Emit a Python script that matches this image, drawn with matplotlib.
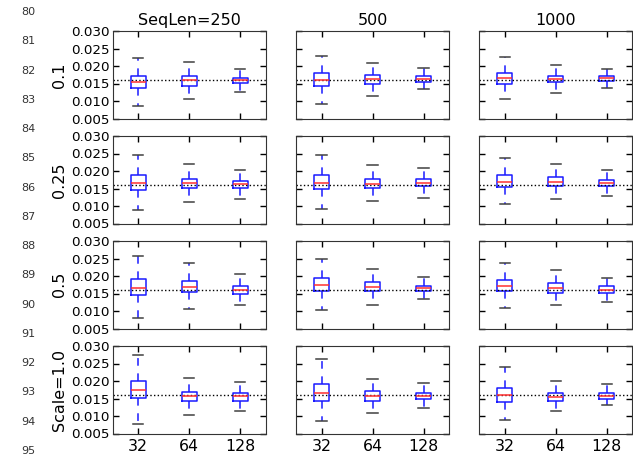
import numpy as np
import matplotlib
matplotlib.use("Agg")
import matplotlib.pyplot as plt

# etiquetas
seq_len = ["SeqLen=250", "500", "1000"]
escalas = ["0.1", "0.25", "0.5", "Scale=1.0"]
batch = ["32", "64", "128"]
referencia = 0.016
numeros_fondo = list(range(80, 96))

# estadisticas: [fila][columna][caja]
bigote_alto = [
    [[0.0224, 0.0211, 0.0191], [0.0228, 0.0209, 0.0194], [0.0225, 0.0203, 0.0191]],
    [[0.0247, 0.0219, 0.0202], [0.0245, 0.0216, 0.0209], [0.0238, 0.0220, 0.0203]],
    [[0.0256, 0.0236, 0.0205], [0.0248, 0.0221, 0.0196], [0.0236, 0.0217, 0.0195]],
    [[0.0273, 0.0209, 0.0196], [0.0263, 0.0207, 0.0193], [0.0239, 0.0199, 0.0191]],
]
q3 = [
    [[0.0171, 0.0171, 0.0166], [0.0179, 0.0174, 0.0171], [0.0181, 0.0172, 0.0171]],
    [[0.0188, 0.0178, 0.0172], [0.0188, 0.0178, 0.0177], [0.0188, 0.0183, 0.0175]],
    [[0.0192, 0.0185, 0.0172], [0.0194, 0.0183, 0.0172], [0.0190, 0.0179, 0.0171]],
    [[0.0200, 0.0170, 0.0166], [0.0192, 0.0171, 0.0167], [0.0181, 0.0166, 0.0167]],
]
mediana = [
    [[0.0153, 0.0159, 0.0159], [0.0159, 0.0163, 0.0164], [0.0165, 0.0164, 0.0165]],
    [[0.0166, 0.0165, 0.0163], [0.0167, 0.0164, 0.0166], [0.0170, 0.0169, 0.0166]],
    [[0.0167, 0.0169, 0.0161], [0.0174, 0.0169, 0.0166], [0.0172, 0.0165, 0.0161]],
    [[0.0175, 0.0158, 0.0156], [0.0165, 0.0158, 0.0158], [0.0161, 0.0155, 0.0158]],
]
q1 = [
    [[0.0138, 0.0144, 0.0151], [0.0142, 0.0150, 0.0155], [0.0149, 0.0153, 0.0158]],
    [[0.0146, 0.0151, 0.0151], [0.0148, 0.0152, 0.0156], [0.0154, 0.0158, 0.0158]],
    [[0.0146, 0.0153, 0.0150], [0.0157, 0.0157, 0.0157], [0.0157, 0.0152, 0.0152]],
    [[0.0151, 0.0143, 0.0144], [0.0142, 0.0144, 0.0148], [0.0140, 0.0143, 0.0149]],
]
bigote_bajo = [
    [[0.0086, 0.0105, 0.0126], [0.0092, 0.0115, 0.0133], [0.0105, 0.0123, 0.0136]],
    [[0.0088, 0.0111, 0.0119], [0.0091, 0.0114, 0.0123], [0.0107, 0.0120, 0.0129]],
    [[0.0081, 0.0106, 0.0117], [0.0104, 0.0118, 0.0134], [0.0109, 0.0117, 0.0127]],
    [[0.0077, 0.0104, 0.0115], [0.0086, 0.0109, 0.0123], [0.0088, 0.0113, 0.0131]],
]

W, H = 633, 455
fig = plt.figure(figsize=(W / 100, H / 100), dpi=100)

# numeros de linea al costado
ax_bg = fig.add_axes([37 / W, 1 - 450 / H, 0.001, (450 - 11) / H])
ax_bg.set_ylim(95, 80)
ax_bg.set_yticks(numeros_fondo)
ax_bg.tick_params(axis="y", length=0, pad=1, labelsize=8, labelcolor="#333333")
ax_bg.set_xticks([])
for s in ax_bg.spines.values():
    s.set_visible(False)
ax_bg.patch.set_visible(False)

izq = [112.7, 296, 479.3]
arriba = [31, 136, 241, 346]
ancho, alto = 153, 87.5

for i in range(4):
    for j in range(3):
        ax = fig.add_axes([izq[j] / W, 1 - (arriba[i] + alto) / H, ancho / W, alto / H])
        stats = []
        for k in range(3):
            stats.append({
                "med": mediana[i][j][k], "q1": q1[i][j][k], "q3": q3[i][j][k],
                "whislo": bigote_bajo[i][j][k], "whishi": bigote_alto[i][j][k],
                "fliers": [],
            })
        ax.bxp(stats, positions=[1, 2, 3], widths=0.3, capwidths=0.2, showfliers=False,
               boxprops=dict(color="#1a1aff", lw=1.1),
               medianprops=dict(color="#ff3030", lw=1.1),
               whiskerprops=dict(color="#1a1aff", ls=(0, (5, 5)), lw=1.1),
               capprops=dict(color="#404040", lw=1.1))
        ax.axhline(referencia, color="k", ls=":", lw=1)
        ax.set_xlim(0.5, 3.5)
        ax.set_ylim(0.005, 0.030)
        ax.set_yticks([0.005, 0.010, 0.015, 0.020, 0.025, 0.030])
        ax.set_xticks([1, 2, 3])
        ax.tick_params(direction="in", top=True, right=True, length=4, width=1)
        ax.tick_params(axis="y", labelsize=9.7, pad=2)
        ax.tick_params(axis="x", labelsize=11.3, pad=4)
        for s in ax.spines.values():
            s.set_color("#333333")
        if j == 0:
            ax.set_yticklabels(["0.005", "0.010", "0.015", "0.020", "0.025", "0.030"])
            ax.set_ylabel(escalas[i], fontsize=11.5, labelpad=3)
        else:
            ax.set_yticklabels([])
        if i == 3:
            ax.set_xticklabels(batch)
        else:
            ax.set_xticklabels([])
        if i == 0:
            ax.set_title(seq_len[j], fontsize=11.5, pad=4)

fig.savefig("out.png", dpi=100)
